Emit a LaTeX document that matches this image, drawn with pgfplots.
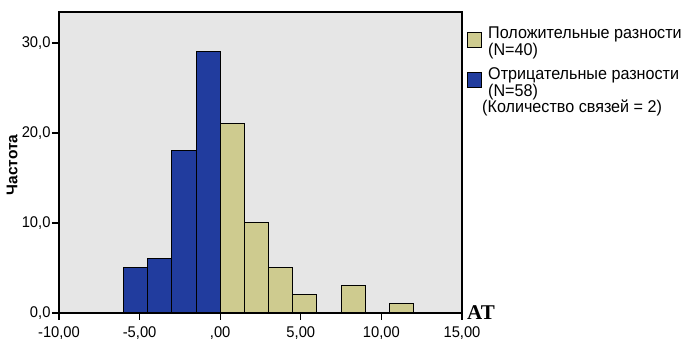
\documentclass[border=0pt]{standalone}
\usepackage{pgfplots}
\pgfplotsset{compat=1.18}
\usepackage{fontspec}
\setmainfont{Liberation Sans}
\newfontfamily\cond[FakeStretch=0.95]{Liberation Sans}
\newfontfamily\serifb{Liberation Serif}
\definecolor{bgc}{HTML}{E6E6E6}
\definecolor{blu}{HTML}{213C9E}
\definecolor{tan}{HTML}{CECB8F}
\begin{document}
\begin{tikzpicture}[x=1pt,y=1pt]
\useasboundingbox (0,0) rectangle (685,340);
\begin{axis}[
  at={(59pt,27pt)}, anchor=south west,
  scale only axis, width=403pt, height=301pt,
  xmin=-10, xmax=15, ymin=0, ymax=33.44,
  axis background/.style={fill=bgc},
  axis line style={line width=1.2pt},
  tick align=outside, major tick length=7pt,
  tick style={black, line width=1.2pt},
  xtick={-10,-5,0,5,10,15},
  xticklabels={{-10,00},{-5,00},{,00},{5,00},{10,00},{15,00}},
  ytick={0,10,20,30},
  yticklabels={{0,0},{10,0},{20,0},{30,0}},
  xtick pos=bottom, ytick pos=left,
  ticklabel style={font=\cond\fontsize{15.5}{16}\selectfont},
  xticklabel style={yshift=-3pt},
  yticklabel style={xshift=2pt},
  every axis plot/.append style={draw=black, line width=1pt},
]
\addplot[ybar interval, fill=blu] coordinates {(-6,5) (-4.5,6) (-3,18) (-1.5,29) (0,0)};
\addplot[ybar interval, fill=tan] coordinates {(0,21) (1.5,10) (3,5) (4.5,2) (6,0)};
\addplot[ybar interval, fill=tan] coordinates {(7.5,3) (9,3)};
\addplot[ybar interval, fill=tan] coordinates {(10.5,1) (12,1)};
\end{axis}
\node[rotate=90, font=\fontsize{15.5}{17}\selectfont\bfseries] at (12,175) {Частота};
\node[anchor=base west, font=\fontsize{21}{22}\serifb\bfseries, inner sep=0pt] at (467,21) {AT};
\begin{scope}[every node/.style={anchor=base west, inner sep=0pt, font=\cond\fontsize{17}{19}\selectfont}]
\filldraw[fill=tan, draw=black, line width=0.8pt] (467.5,293) rectangle (481.5,307.5);
\filldraw[fill=blu, draw=black, line width=0.8pt] (467.5,253) rectangle (481.5,267.5);
\node at (488,301) {Положительные разности};
\node at (488,284) {(N=40)};
\node at (488,260) {Отрицательные разности};
\node at (488,243) {(N=58)};
\node at (482,227) {(Количество связей = 2)};
\end{scope}
\end{tikzpicture}
\end{document}
